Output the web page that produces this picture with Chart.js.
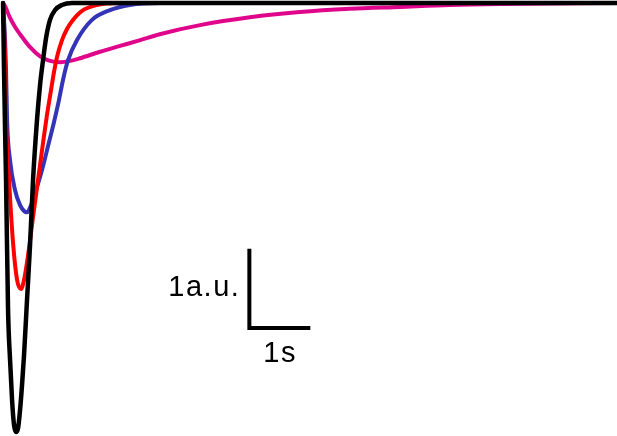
<!DOCTYPE html>
<html>
<head>
<meta charset="utf-8">
<script src="https://cdn.jsdelivr.net/npm/chart.js@4"></script>
<style>
  html, body { margin: 0; padding: 0; background: #fff; }
  #traces { display: block; }
</style>
</head>
<body>
<canvas id="traces" width="617" height="436"></canvas>
<script>
// time in seconds, amplitude in a.u.
var blackT = [0, 0.016, 0.033, 0.049, 0.082, 0.115, 0.148, 0.18, 0.213, 0.246, 0.279, 0.311, 0.344, 0.393, 0.443, 0.492, 0.557, 0.607, 0.656, 0.705, 0.77, 0.852, 0.967, 1.13, 10.07];
var blackY = [0, -1.03, -1.95, -2.72, -4.72, -5.49, -6.11, -6.49, -6.6, -6.54, -6.26, -5.88, -5.42, -4.57, -3.72, -2.72, -1.8, -1.26, -0.88, -0.54, -0.26, -0.11, -0.03, 0, 0];

var redT = [0, 0.033, 0.049, 0.098, 0.164, 0.23, 0.295, 0.344, 0.41, 0.492, 0.574, 0.656, 0.721, 0.787, 0.836, 0.885, 0.967, 1.049, 1.131, 1.295, 1.541, 1.918, 10.07];
var redY = [0, -0.88, -1.8, -2.72, -3.69, -4.26, -4.4, -4.26, -3.88, -3.29, -2.72, -2.15, -1.72, -1.34, -1.06, -0.83, -0.57, -0.4, -0.28, -0.12, -0.03, 0, 0];

var blueT = [0, 0.033, 0.049, 0.066, 0.115, 0.197, 0.279, 0.344, 0.393, 0.459, 0.541, 0.639, 0.738, 0.836, 0.918, 0.984, 1.066, 1.213, 1.459, 1.754, 2.08, 2.57, 10.07];
var blueY = [0, -0.57, -1.03, -1.8, -2.42, -2.88, -3.11, -3.2, -3.22, -3.11, -2.88, -2.57, -2.2, -1.83, -1.49, -1.18, -0.88, -0.57, -0.26, -0.11, -0.03, 0, 0];

var pinkT = [0, 0.033, 0.115, 0.197, 0.279, 0.443, 0.607, 0.77, 0.934, 1.1, 1.26, 1.59, 1.92, 2.25, 2.57, 3.23, 4.05, 4.87, 5.69, 6.51, 7.33, 8.15, 10.07];
var pinkY = [0, -0.05, -0.23, -0.37, -0.48, -0.68, -0.82, -0.89, -0.91, -0.89, -0.85, -0.75, -0.66, -0.57, -0.48, -0.34, -0.22, -0.14, -0.09, -0.06, -0.03, -0.015, 0];

// scale bar: 1 s by 1 a.u.
var barT = [4.04, 4.04, 5.04];
var barY = [-3.78, -5.0, -5.0];
var barLabels = ['1a.u.', '1s'];

function pts(t, y) {
    return t.map(function(v, i) { return { x: v, y: y[i] }; });
}

var barText = {
    id: 'barText',
    afterDatasetsDraw: function(chart) {
        var c = chart.ctx;
        var xs = chart.scales.x, ys = chart.scales.y;
        var x0 = xs.getPixelForValue(barT[1]);
        var x1 = xs.getPixelForValue(barT[2]);
        var yBot = ys.getPixelForValue(barY[1]);
        c.save();
        c.fillStyle = '#000';
        c.font = '29px "Liberation Sans", Arial, sans-serif';
        c.letterSpacing = '1.5px';
        c.textAlign = 'left';
        c.textBaseline = 'alphabetic';
        c.fillText(barLabels[0], x0 - 81, yBot - 32);
        c.fillText(barLabels[1], x0 + 14, yBot + 34);
        c.restore();
    }
};

var ctx = document.getElementById('traces').getContext('2d');
var chart = new Chart(ctx, {
    type: 'line',
    data: {
        datasets: [{
            data: pts(barT, barY),
            borderColor: '#000',
            borderWidth: 4,
            tension: 0,
            cubicInterpolationMode: 'default',
            borderCapStyle: 'butt',
            borderJoinStyle: 'miter',
            order: 0
        }, {
            data: pts(blackT, blackY),
            borderColor: '#000000',
            borderWidth: 4.5,
            order: 1
        }, {
            data: pts(redT, redY),
            borderColor: '#ff0000',
            borderWidth: 4,
            order: 2
        }, {
            data: pts(blueT, blueY),
            borderColor: '#3434b6',
            borderWidth: 4,
            order: 3
        }, {
            data: pts(pinkT, pinkY),
            borderColor: '#e0068c',
            borderWidth: 4,
            order: 4
        }]
    },
    options: {
        responsive: false,
        animation: false,
        events: [],
        layout: { padding: 0 },
        elements: {
            point: { radius: 0 },
            line: { cubicInterpolationMode: 'monotone', fill: false, borderJoinStyle: 'round', borderCapStyle: 'round' }
        },
        datasets: { line: { clip: false } },
        scales: {
            x: { type: 'linear', display: false, min: -0.05, max: 10.07 },
            y: { type: 'linear', display: false, min: -6.66, max: 0.046 }
        },
        plugins: {
            legend: { display: false },
            tooltip: { enabled: false },
            title: { display: false }
        }
    },
    plugins: [barText]
});
</script>
</body>
</html>
